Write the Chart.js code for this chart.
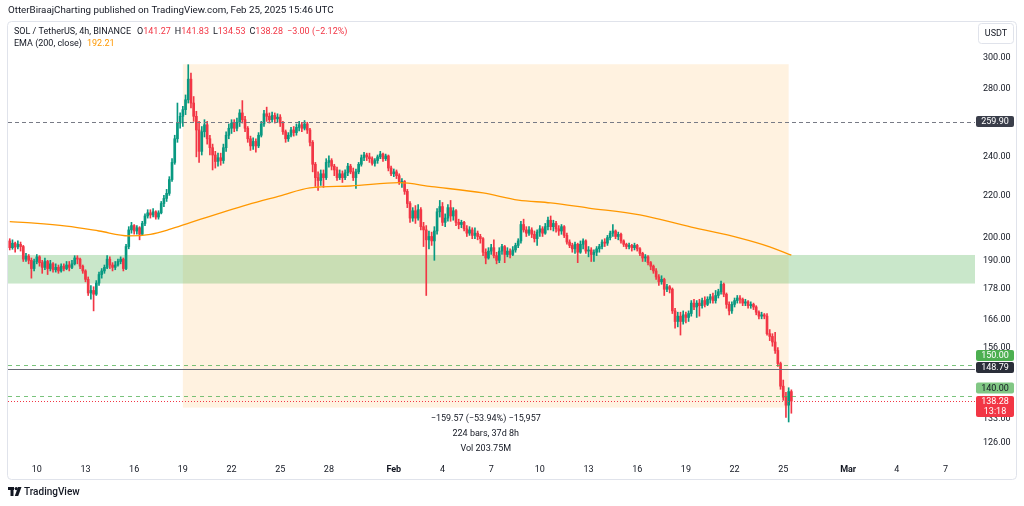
<!doctype html>
<html lang="en">
<head>
<meta charset="utf-8" />
<title>SOL / TetherUS 4h</title>
<script src="https://cdn.jsdelivr.net/npm/chart.js@4"></script>
<style>
  html,body{margin:0;padding:0;background:#fff}
  #c{display:block}
</style>
</head>
<body>
<canvas id="c" width="1024" height="506"></canvas>
<script>
// 4h candles, x = bar number counted from Jan 1 00:00 UTC (6 bars per day)
const FIRST_BAR = 44;      // Jan 8 08:00
const firstOpen = 198.5;

// one line per day
const closes = [
  195.5, 197.5, 195.8, 197.0,                       // Jan 8
  196.0, 190.5, 191.8, 190.0, 186.5, 189.5,         // Jan 9
  191.5, 189.0, 187.0, 189.5, 186.5, 188.5,
  186.0, 187.0, 185.5, 187.5, 186.5, 188.0,
  187.0, 188.5, 191.0, 190.5, 187.5, 185.5,
  182.0, 176.5, 177.5, 176.0, 180.5, 184.0,         // Jan 13
  185.5, 187.0, 190.5, 188.0, 187.0, 188.0,
  189.5, 190.5, 186.5, 196.0, 203.5, 205.5,
  203.0, 204.5, 201.5, 206.5, 210.0, 211.5,
  210.5, 212.0, 209.5, 211.5, 216.0, 218.5,
  221.0, 228.0, 237.0, 250.0, 259.0, 263.0,         // Jan 18
  267.0, 273.0, 286.0, 271.0, 263.0, 255.0,
  243.0, 254.0, 258.0, 250.0, 245.0, 241.0,
  237.5, 239.5, 238.0, 245.0, 252.0, 256.0,
  259.0, 256.0, 259.5, 265.0, 261.0, 256.0,
  250.0, 246.0, 248.5, 246.0, 252.0, 258.5,         // Jan 23
  264.5, 263.0, 261.0, 263.5, 261.5, 262.5,
  259.0, 254.0, 250.0, 252.0, 255.0, 253.5,
  256.5, 258.0, 256.0, 258.5, 255.0, 248.0,
  236.0, 229.0, 227.5, 231.0, 229.0, 237.0,
  238.0, 235.0, 233.0, 229.0, 231.0, 229.0,         // Jan 28
  231.5, 235.0, 232.0, 229.0, 232.0, 236.0,
  239.5, 241.0, 240.0, 239.0, 236.5, 238.0,
  240.0, 241.5, 239.0, 240.5, 234.0, 231.0,
  232.0, 230.0, 226.5, 227.0, 222.0, 216.0,         // Feb 1
  209.0, 212.5, 209.0, 213.0, 205.0, 203.5,
  199.0, 200.5, 198.5, 203.0, 212.0, 214.5,
  207.0, 209.0, 214.0, 210.0, 212.5, 207.0,
  206.0, 207.0, 204.0, 202.0, 203.5, 201.0,         // Feb 5
  202.0, 200.5, 199.5, 193.5, 191.0, 194.0,
  195.5, 192.0, 190.0, 194.0, 196.0, 192.5,
  194.0, 192.5, 194.5, 196.5, 198.5, 206.0,
  203.5, 202.0, 203.5, 201.5, 199.5, 202.5,
  204.0, 202.0, 205.0, 208.0, 205.0, 206.5,         // Feb 10
  204.0, 203.0, 205.0, 201.0, 198.0, 196.5,
  195.0, 197.0, 193.5, 197.0, 198.5, 194.0,
  194.5, 192.5, 193.5, 195.0, 196.0, 198.0,
  197.5, 200.0, 202.0, 203.0, 200.5, 201.5,
  198.5, 197.0, 196.0, 196.5, 195.5, 196.5,         // Feb 15
  195.0, 193.0, 191.0, 191.5, 189.0, 187.5,
  185.5, 183.0, 181.0, 182.0, 178.0, 179.0,
  178.0, 169.5, 165.5, 167.5, 165.5, 168.0,
  167.0, 168.5, 172.5, 171.0, 172.5, 171.5,
  173.5, 172.0, 174.0, 175.0, 173.5, 175.5,         // Feb 20
  177.0, 180.0, 176.0, 172.0, 169.5, 172.0,
  173.5, 174.5, 174.0, 172.5, 173.0, 171.5,
  172.0, 171.0, 169.0, 167.5, 168.0, 167.5,
  161.0, 160.0, 158.0, 155.0, 150.5, 143.0,
  139.5, 137.0, 141.27, 138.28                      // Feb 25
];
const highs = [
  199.5, 199.0, 198.0, 198.5,
  198.0, 196.5, 193.0, 192.5, 191.0, 190.5,
  192.5, 192.0, 190.0, 191.0, 190.0, 190.0,
  189.0, 188.5, 188.0, 188.5, 188.5, 189.5,
  189.5, 190.0, 192.0, 192.0, 191.0, 188.0,
  186.0, 183.0, 179.5, 179.0, 181.5, 185.0,
  186.5, 188.0, 192.0, 191.5, 189.0, 189.5,
  190.5, 191.5, 191.0, 197.0, 205.0, 207.0,
  206.0, 205.5, 205.0, 207.5, 211.0, 213.0,
  213.0, 213.5, 212.5, 212.5, 217.0, 220.0,
  223.0, 229.5, 239.0, 252.0, 271.0, 265.0,
  269.0, 276.0, 295.5, 290.0, 275.0, 266.0,
  260.0, 257.0, 261.0, 260.0, 252.0, 247.0,
  243.0, 242.0, 242.0, 247.0, 254.0, 258.5,
  261.0, 261.0, 262.0, 267.0, 272.5, 263.0,
  257.0, 251.5, 250.5, 250.0, 253.5, 260.0,
  266.5, 268.5, 265.0, 265.5, 265.0, 264.5,
  264.0, 260.0, 255.0, 253.5, 256.5, 257.0,
  258.5, 260.0, 259.5, 260.5, 259.5, 256.0,
  249.0, 237.0, 232.0, 233.0, 233.0, 239.0,
  240.5, 239.0, 236.0, 234.5, 233.0, 232.5,
  233.0, 236.5, 236.0, 234.0, 233.5, 237.0,
  241.0, 242.5, 242.0, 242.0, 240.0, 239.0,
  241.0, 243.0, 242.0, 241.5, 241.0, 235.0,
  233.5, 233.0, 231.0, 228.5, 227.5, 223.0,
  217.0, 214.0, 215.0, 215.5, 214.0, 207.0,
  205.5, 203.0, 202.5, 205.0, 213.5, 217.5,
  216.5, 211.0, 215.5, 217.5, 214.0, 213.0,
  208.5, 208.0, 207.5, 205.5, 205.0, 204.5,
  204.5, 203.0, 201.5, 200.0, 195.0, 195.5,
  197.0, 199.0, 193.5, 195.5, 197.0, 196.5,
  195.5, 195.0, 196.0, 197.5, 199.5, 207.5,
  208.5, 205.0, 205.0, 204.5, 203.0, 203.5,
  205.5, 205.0, 206.5, 209.5, 210.0, 208.0,
  207.5, 205.5, 206.0, 205.5, 202.0, 199.0,
  197.5, 198.0, 197.5, 198.5, 199.5, 199.0,
  196.0, 195.5, 194.5, 196.0, 197.0, 199.0,
  199.5, 201.0, 203.0, 206.0, 203.5, 202.5,
  202.0, 199.0, 197.5, 197.5, 197.0, 197.5,
  197.0, 195.5, 193.5, 192.5, 192.0, 189.5,
  188.0, 186.5, 184.0, 183.5, 182.5, 180.0,
  179.5, 178.5, 170.5, 169.0, 169.0, 169.5,
  169.0, 169.5, 173.5, 174.0, 173.5, 174.0,
  174.5, 175.0, 175.0, 176.0, 176.5, 177.5,
  178.0, 181.3, 180.5, 176.5, 173.0, 173.0,
  174.5, 175.5, 175.5, 174.5, 174.0, 173.5,
  173.0, 172.5, 171.5, 169.5, 169.0, 168.5,
  168.5, 162.5, 161.0, 161.5, 156.0, 151.0,
  145.0, 141.0, 142.5, 141.83
];
const lows = [
  194.5, 194.8, 193.5, 195.0,
  194.0, 189.5, 189.5, 188.5, 182.5, 185.5,
  188.5, 187.5, 184.5, 186.0, 184.0, 185.5,
  185.0, 185.0, 184.5, 185.0, 185.5, 186.0,
  185.5, 186.5, 188.0, 188.5, 186.5, 184.5,
  181.0, 175.5, 174.0, 169.5, 175.5, 179.5,
  182.5, 184.5, 186.5, 186.5, 185.5, 186.0,
  187.5, 188.5, 185.5, 186.0, 195.0, 202.0,
  201.5, 201.5, 199.0, 201.0, 205.5, 209.0,
  209.0, 209.5, 208.5, 208.5, 211.0, 214.5,
  217.0, 220.0, 227.0, 236.0, 248.0, 256.0,
  257.0, 264.0, 271.0, 268.0, 260.0, 240.0,
  237.0, 241.0, 251.0, 247.0, 241.0, 233.0,
  234.0, 235.0, 235.5, 236.5, 243.0, 250.0,
  253.0, 254.0, 254.5, 257.0, 259.0, 254.0,
  248.0, 243.5, 244.0, 242.5, 245.0, 251.0,
  257.0, 260.0, 259.0, 259.5, 259.0, 259.5,
  257.0, 252.5, 248.0, 248.5, 251.0, 251.5,
  252.0, 254.5, 254.0, 255.0, 253.0, 246.0,
  232.0, 224.5, 222.5, 225.0, 224.0, 228.0,
  234.5, 233.0, 230.0, 227.5, 228.0, 226.5,
  228.0, 230.0, 231.0, 227.5, 223.5, 231.0,
  235.0, 238.0, 238.0, 237.0, 235.5, 235.0,
  236.5, 239.0, 237.5, 238.0, 232.5, 230.0,
  229.5, 228.5, 225.5, 224.0, 220.5, 214.0,
  207.0, 207.5, 206.5, 208.0, 203.5, 196.0,
  175.5, 195.0, 196.5, 190.0, 201.5, 209.5,
  205.5, 205.0, 207.5, 207.5, 208.0, 205.5,
  204.0, 204.5, 203.0, 200.5, 201.0, 199.5,
  199.5, 199.0, 197.5, 192.0, 188.5, 190.5,
  192.5, 191.0, 188.5, 189.0, 192.5, 189.0,
  191.5, 191.0, 192.0, 193.5, 195.5, 197.5,
  202.5, 200.5, 201.0, 200.0, 198.0, 196.5,
  200.5, 200.5, 201.5, 203.5, 203.5, 203.0,
  202.5, 201.0, 201.5, 200.0, 197.0, 195.5,
  193.5, 193.0, 189.0, 193.0, 195.0, 193.0,
  191.5, 189.5, 189.5, 192.0, 193.5, 195.0,
  196.0, 196.5, 199.0, 200.5, 199.5, 199.0,
  197.5, 196.0, 195.0, 195.0, 194.0, 194.5,
  194.0, 192.0, 189.5, 189.5, 188.0, 186.0,
  184.5, 182.0, 179.5, 180.0, 175.5, 177.0,
  176.5, 168.5, 163.0, 163.5, 160.5, 164.5,
  165.0, 165.5, 167.5, 170.0, 167.0, 167.5,
  170.5, 171.0, 171.5, 172.5, 172.5, 172.5,
  174.5, 176.0, 175.0, 170.5, 168.0, 168.5,
  171.0, 172.5, 172.5, 171.5, 171.5, 170.5,
  170.5, 170.0, 168.0, 166.5, 166.5, 166.5,
  160.5, 158.5, 156.5, 154.0, 149.5, 142.0,
  138.5, 133.3, 131.9, 134.53
];

// EMA(200)
const emaBars   = [44, 53, 65, 77, 88, 96, 103, 111, 132, 144, 155, 170, 188, 200, 219, 232, 244, 258, 277, 296, 314, 325, 333];
const emaValues = [207.3, 206.6, 205.2, 203.0, 200.8, 201.5, 203.7, 207.0, 215.5, 219.8, 223.8, 224.7, 226.4, 224.4, 221.2, 217.7, 216.3, 213.8, 210.5, 204.8, 199.8, 195.9, 192.21];

// time axis: day of year and label
const xTickDays   = [10, 13, 16, 19, 22, 25, 28, 32, 35, 38, 41, 44, 47, 50, 53, 56, 60, 63, 66];
const xTickLabels = ['10', '13', '16', '19', '22', '25', '28', 'Feb', '4', '7', '10', '13', '16', '19', '22', '25', 'Mar', '4', '7'];
const yTicks = [126, 133, 156, 166, 178, 190, 200, 220, 240, 260, 280, 300];

// drawings
const zonePrices  = [180.3, 192.3];
const rangeBars   = [108, 332];
const rangePrices = [295.83, 136.26];
const rangeLines  = ['\u2212159.57 (\u221253.94%) \u221215,957', '224 bars, 37d 8h', 'Vol 203.75M'];

const FONT = 'Roboto, "Noto Sans", "Liberation Sans", sans-serif';
const DARK = '#131722';
const UP = '#089981', DOWN = '#f23645';

const levels = [
  {v: 259.90, line: '#787b86', dash: [4, 3], bg: '#3a3e4a', fg: '#fff', dy: 0},
  {v: 150.00, line: 'rgba(76,175,80,0.75)', dash: [4, 4], bg: '#4caf50', fg: '#fff', dy: -9.5},
  {v: 148.79, line: '#6a6d78', dash: [], bg: '#2a2e39', fg: '#fff', dy: -1},
  {v: 140.00, line: 'rgba(76,175,80,0.75)', dash: [4, 4], bg: '#81c784', fg: DARK, dy: -7.5},
  {v: 138.28, line: '#f23645', dash: [1, 2], bg: '#f23645', fg: '#fff', dy: 5.5, sub: '13:18'}
];

const opens = closes.map((c, k) => k === 0 ? firstOpen : closes[k - 1]);
const barX = closes.map((_, k) => FIRST_BAR + k);
const colors = closes.map((c, k) => c >= opens[k] ? UP : DOWN);
const wickData = barX.map((x, k) => ({x, y: [lows[k], highs[k]]}));
const bodyData = barX.map((x, k) => ({x, y: [Math.min(opens[k], closes[k]), Math.max(opens[k], closes[k])]}));
const emaData = emaBars.map((x, k) => ({x, y: emaValues[k]}));

function rrect(ctx, x, y, w, h, r) {
  ctx.beginPath();
  ctx.moveTo(x + r, y);
  ctx.arcTo(x + w, y, x + w, y + h, r);
  ctx.arcTo(x + w, y + h, x, y + h, r);
  ctx.arcTo(x, y + h, x, y, r);
  ctx.arcTo(x, y, x + w, y, r);
  ctx.closePath();
}

const overlay = {
  id: 'overlay',
  beforeDraw(chart) {
    const {ctx, width, height} = chart;
    ctx.save();
    ctx.fillStyle = '#fff';
    ctx.fillRect(0, 0, width, height);
    ctx.restore();
  },
  beforeDatasetsDraw(chart) {
    const {ctx, chartArea: a, scales: {x, y}} = chart;
    ctx.save();
    const rx0 = x.getPixelForValue(rangeBars[0]), rx1 = x.getPixelForValue(rangeBars[1]);
    const ry0 = y.getPixelForValue(rangePrices[0]), ry1 = y.getPixelForValue(rangePrices[1]);
    ctx.fillStyle = 'rgba(255,152,0,0.12)';
    ctx.fillRect(rx0, ry0, rx1 - rx0, ry1 - ry0);
    const zy0 = y.getPixelForValue(zonePrices[1]), zy1 = y.getPixelForValue(zonePrices[0]);
    ctx.fillStyle = 'rgba(76,175,80,0.3)';
    ctx.fillRect(a.left, zy0, a.right - a.left, zy1 - zy0);
    ctx.restore();
  },
  afterDatasetsDraw(chart) {
    const {ctx, chartArea: a, scales: {x, y}} = chart;
    ctx.save();
    levels.forEach(l => {
      const py = Math.round(y.getPixelForValue(l.v)) + 0.5;
      ctx.strokeStyle = l.line;
      ctx.lineWidth = 1;
      ctx.setLineDash(l.dash);
      ctx.beginPath();
      ctx.moveTo(a.left, py);
      ctx.lineTo(a.right, py);
      ctx.stroke();
    });
    ctx.setLineDash([]);
    // range label
    const cx = (x.getPixelForValue(rangeBars[0]) + x.getPixelForValue(rangeBars[1])) / 2;
    const by = y.getPixelForValue(rangePrices[1]);
    ctx.fillStyle = DARK;
    ctx.font = '9px ' + FONT;
    ctx.textAlign = 'center';
    ctx.textBaseline = 'middle';
    rangeLines.forEach((t, k) => ctx.fillText(t, cx, by + 11 + k * 15));
    ctx.restore();
  },
  afterDraw(chart) {
    const {ctx, scales: {y}} = chart;
    ctx.save();
    // price labels on the axis
    ctx.font = '9px ' + FONT;
    ctx.textAlign = 'center';
    ctx.textBaseline = 'middle';
    levels.forEach(l => {
      const py = y.getPixelForValue(l.v);
      const h = l.sub ? 21 : 11;
      const top = py + l.dy - h / 2;
      ctx.fillStyle = l.bg;
      rrect(ctx, 976, top, 38, h, 2);
      ctx.fill();
      ctx.fillStyle = l.fg;
      ctx.fillText(l.v.toFixed(2), 995, top + 5.7);
      if (l.sub) ctx.fillText(l.sub, 995, top + 15.8);
    });
    // pane frame
    ctx.strokeStyle = '#e0e3eb';
    ctx.lineWidth = 1;
    rrect(ctx, 7.5, 21.5, 1009, 458, 4);
    ctx.stroke();
    // currency box
    ctx.fillStyle = '#fff';
    rrect(ctx, 978.5, 23.5, 35, 20, 3);
    ctx.fill();
    ctx.stroke();
    ctx.fillStyle = DARK;
    ctx.fillText('USDT', 996, 34);
    // header
    ctx.textAlign = 'left';
    ctx.font = '9.75px ' + FONT;
    ctx.fillText('OtterBiraajCharting published on TradingView.com, Feb 25, 2025 15:46 UTC', 8, 11);
    // legend
    const row = (parts, x0, yy) => {
      let xx = x0;
      parts.forEach(([t, c, gap]) => {
        ctx.fillStyle = c;
        ctx.fillText(t, xx, yy);
        xx += ctx.measureText(t).width + gap;
      });
    };
    ctx.font = '9px ' + FONT;
    row([['SOL / TetherUS, 4h, BINANCE', DARK, 6], ['O', DARK, 0], ['141.27', DOWN, 4], ['H', DARK, 0], ['141.83', DOWN, 4],
         ['L', DARK, 0], ['134.53', DOWN, 4], ['C', DARK, 0], ['138.28', DOWN, 4], ['\u22123.00 (\u22122.12%)', DOWN, 0]], 14, 32);
    row([['EMA (200, close)', DARK, 5], ['192.21', '#ff9800', 0]], 14, 44);
    // logo
    ctx.fillStyle = DARK;
    ctx.fillRect(8, 487, 6, 3);
    ctx.fillRect(10.5, 487, 3, 9);
    ctx.beginPath();
    ctx.arc(16.2, 488.6, 1.6, 0, Math.PI * 2);
    ctx.fill();
    ctx.beginPath();
    ctx.moveTo(18, 487); ctx.lineTo(21.5, 487); ctx.lineTo(18.2, 496); ctx.lineTo(14.8, 496);
    ctx.closePath();
    ctx.fill();
    ctx.font = '500 10px ' + FONT;
    ctx.fillText('TradingView', 24, 492);
    ctx.restore();
  }
};

new Chart(document.getElementById('c'), {
  type: 'bar',
  data: {
    datasets: [
      {type: 'line', data: emaData, borderColor: '#ff9800', borderWidth: 1.3, pointRadius: 0,
       cubicInterpolationMode: 'monotone', order: 0},
      {type: 'bar', data: bodyData, backgroundColor: colors, barThickness: 2, minBarLength: 1, order: 1},
      {type: 'bar', data: wickData, backgroundColor: colors, barThickness: 1, order: 2}
    ]
  },
  options: {
    responsive: false,
    animation: false,
    events: [],
    layout: {padding: {left: 8, right: 8, top: 22, bottom: 27}},
    plugins: {legend: {display: false}, tooltip: {enabled: false}},
    datasets: {bar: {grouped: false, borderWidth: 0}},
    scales: {
      x: {
        type: 'linear', min: 43.35, max: 400.9, offset: false, bounds: 'data',
        grid: {display: false, drawTicks: false, tickLength: 0}, border: {display: false},
        afterBuildTicks: s => { s.ticks = xTickDays.map(d => ({value: (d - 1) * 6})); },
        afterFit: s => { s.height = 21; },
        ticks: {
          autoSkip: false, maxRotation: 0, minRotation: 0, padding: 6, color: DARK,
          font: c => ({family: FONT, size: 9, weight: (c.tick && /[A-Z]/.test(c.tick.label)) ? 'bold' : 'normal'}),
          callback: (v, i) => xTickLabels[i]
        }
      },
      y: {
        type: 'logarithmic', position: 'right', min: 121.6, max: 325.4, bounds: 'data',
        grid: {display: false, drawTicks: false, tickLength: 0}, border: {display: false},
        afterBuildTicks: s => { s.ticks = yTicks.map(v => ({value: v})); },
        afterFit: s => { s.width = 41; },
        ticks: {padding: 8, color: DARK, font: {family: FONT, size: 9}, callback: v => Number(v).toFixed(2)}
      }
    }
  },
  plugins: [overlay]
});
</script>
</body>
</html>
